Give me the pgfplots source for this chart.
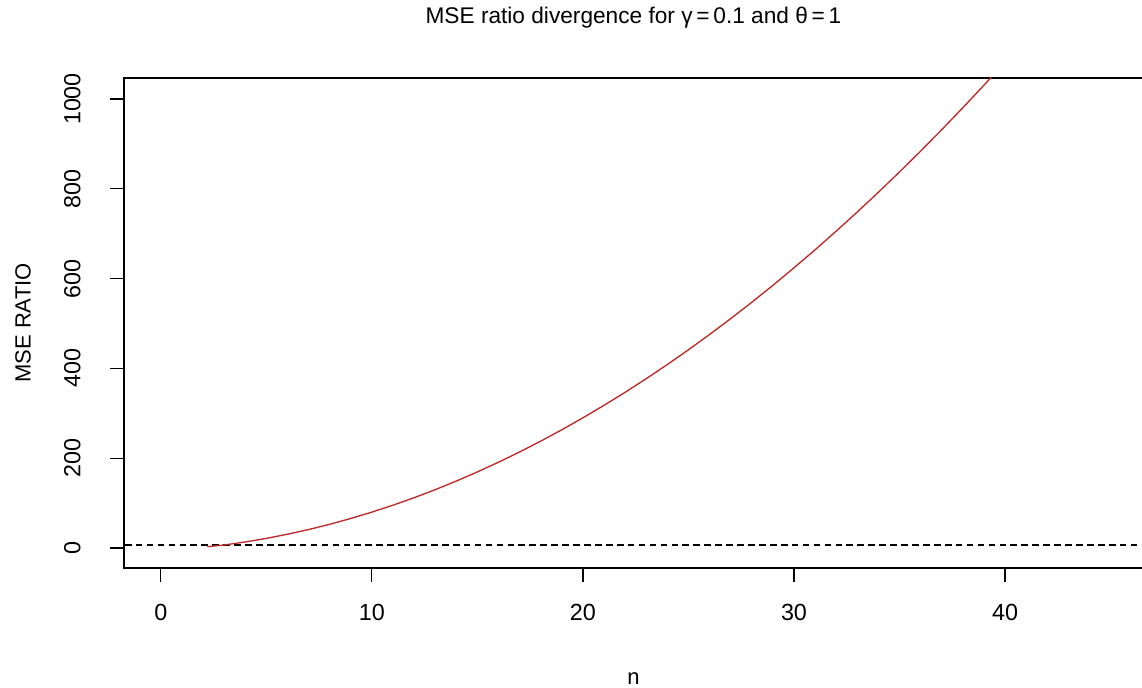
\documentclass[border=0pt]{standalone}
\usepackage{pgfplots}
\pgfplotsset{compat=1.18}
\usepackage{fontspec}
\setmainfont{Liberation Sans}
\definecolor{curvered}{RGB}{190,40,40}
\begin{document}
\begin{tikzpicture}
\begin{axis}[
  name=ax,
  at={(0,0)}, anchor=south west,
  scale only axis,
  width=764.25pt, height=367.5pt,
  xmin=-1.75, xmax=46.54,
  ymin=-44.5, ymax=1046.8,
  xtick={0,10,20,30,40},
  ytick={0,200,400,600,800,1000},
  xtick pos=left, ytick pos=left,
  tick align=outside,
  major tick length=10.5pt,
  tick style={black, line width=0.8pt},
  axis line style={line width=0.8pt},
  /pgf/number format/assume math mode=true,
  /pgf/number format/1000 sep={},
  ticklabel style={font=\fontsize{17.5}{20}\selectfont},
  xticklabel style={yshift=-13pt},
  yticklabel style={rotate=90, anchor=south, xshift=0pt, yshift=18.5pt},
  xlabel={n},
  ylabel={MSE RATIO},
  xlabel style={font=\fontsize{16.5}{18}\selectfont, at={(axis description cs:0.5,0)}, anchor=south, yshift=-91pt},
  ylabel style={font=\fontsize{16.5}{18}\selectfont, at={(axis description cs:-0.099,0.5)}, anchor=center},
  title={MSE ratio divergence for γ\,=\,0.1 and θ\,=\,1},
  title style={font=\fontsize{17}{19}\selectfont, at={(axis description cs:0.5,1)}, anchor=north, yshift=58.5pt-8pt},
  clip=true,
]
\addplot[black, line width=0.9pt, dash pattern=on 5pt off 3.2pt, forget plot] coordinates {(-10,6.5) (60,6.5)};
\addplot[curvered, line width=1pt] coordinates {
(2.2,3.0) (3,6.78) (4,13.52) (5,21.5) (6,30.72) (7,41.18) (8,52.88) (9,65.82)
(10,80) (11,95.42) (12,112.08) (13,129.98) (14,149.12) (15,169.5) (16,191.12)
(17,213.98) (18,238.08) (19,263.42) (20,290) (21,317.82) (22,346.88) (23,377.18)
(24,408.72) (25,441.5) (26,475.52) (27,510.78) (28,547.28) (29,585.02) (30,624)
(31,664.22) (32,705.68) (33,748.38) (34,792.32) (35,837.5) (36,883.92)
(37,931.58) (38,980.48) (39,1030.62) (40,1082)
};
\end{axis}
\pgfresetboundingbox
\path[use as bounding box] ([shift={(-93pt,-90pt)}]ax.south west) rectangle ([shift={(-0.75pt,58.5pt)}]ax.north east);
\end{tikzpicture}
\end{document}
